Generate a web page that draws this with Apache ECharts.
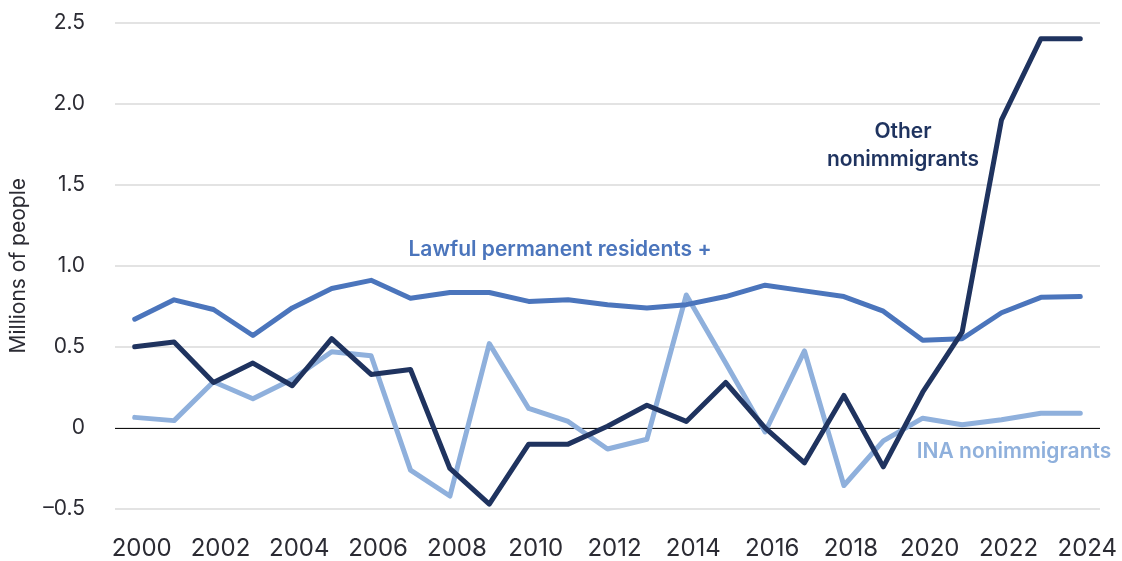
<!DOCTYPE html>
<html>
<head>
<meta charset="utf-8">
<script src="https://cdn.jsdelivr.net/npm/echarts@6/dist/echarts.min.js"></script>
<style>
  html, body { margin: 0; padding: 0; background: #fff; }
  #chart { width: 1122px; height: 561px; }
</style>
</head>
<body>
<div id="chart"></div>
<script>
const years = ['2000', '2001', '2002', '2003', '2004', '2005', '2006', '2007', '2008', '2009', '2010', '2011',
  '2012', '2013', '2014', '2015', '2016', '2017', '2018', '2019', '2020', '2021', '2022', '2023', '2024'];

// millions of people
const lawfulPermanent = [0.67, 0.79, 0.73, 0.57, 0.74, 0.86, 0.91, 0.80, 0.835, 0.835, 0.78, 0.79,
  0.76, 0.74, 0.76, 0.81, 0.88, 0.845, 0.81, 0.72, 0.54, 0.55, 0.71, 0.805, 0.81];
const otherNonimmigrants = [0.50, 0.53, 0.28, 0.40, 0.26, 0.55, 0.33, 0.36, -0.25, -0.47, -0.10, -0.10,
  0.01, 0.14, 0.04, 0.28, 0.0, -0.215, 0.20, -0.24, 0.22, 0.59, 1.90, 2.40, 2.40];
const inaNonimmigrants = [0.065, 0.045, 0.285, 0.18, 0.30, 0.47, 0.445, -0.26, -0.42, 0.52, 0.12, 0.04,
  -0.13, -0.07, 0.82, 0.40, -0.025, 0.475, -0.355, -0.08, 0.06, 0.02, 0.05, 0.09, 0.09];

const FONT = 'Inter, "DejaVu Sans", sans-serif';
const TEXT_C = '#2b2b33';
const C_LAWFUL = '#4b75bc';
const C_OTHER = '#1f335f';
const C_INA = '#8fb0dc';

const chart = echarts.init(document.getElementById('chart'));

const lineSeries = (name, data, color, z) => ({
  name: name,
  type: 'line',
  data: data,
  symbol: 'none',
  z: z,
  lineStyle: { color: color, width: 5, cap: 'round', join: 'round' },
  itemStyle: { color: color },
});

// series labels placed beside the lines
const note = (text, x, y, color) => ({
  type: 'text',
  x: x,
  y: y,
  z: 10,
  style: {
    text: text, fill: color, fontFamily: FONT, fontSize: 21, fontWeight: 600,
    align: 'center', verticalAlign: 'middle', lineHeight: 28,
  },
});

const option = {
  animation: false,
  backgroundColor: '#fff',
  grid: { left: 110, right: 22, top: 22.5, bottom: 50.5, containLabel: false },
  xAxis: {
    type: 'category',
    data: years,
    boundaryGap: true,
    axisLine: { show: false },
    axisTick: { show: false },
    axisLabel: {
      interval: 1,
      margin: 28,
      padding: [0, 0, 0, 14],
      fontFamily: FONT,
      fontSize: 24,
      color: TEXT_C,
    },
    splitLine: { show: false },
  },
  yAxis: {
    type: 'value',
    min: -0.5,
    max: 2.5,
    interval: 0.5,
    name: 'Millions of people',
    nameLocation: 'middle',
    nameGap: 86,
    nameRotate: 90,
    nameTextStyle: { fontFamily: FONT, fontSize: 21, color: TEXT_C },
    axisLine: { show: false },
    axisTick: { show: false },
    axisLabel: {
      margin: 30,
      fontFamily: FONT,
      fontSize: 21,
      color: TEXT_C,
      formatter: v => (v === 0 ? '0' : v.toFixed(1).replace('-', '\u2013')),
    },
    splitLine: { show: true, lineStyle: { color: '#e3e3e3', width: 2 } },
  },
  series: [
    Object.assign(lineSeries('Lawful permanent residents +', lawfulPermanent, C_LAWFUL, 3), {
      markLine: {
        silent: true,
        symbol: 'none',
        label: { show: false },
        lineStyle: { color: '#111', width: 1.2, type: 'solid' },
        data: [{ yAxis: 0 }],
        z: 1,
      },
    }),
    lineSeries('INA nonimmigrants', inaNonimmigrants, C_INA, 2),
    lineSeries('Other nonimmigrants', otherNonimmigrants, C_OTHER, 4),
  ],
  graphic: [
    note('Lawful permanent residents +', 560, 250, C_LAWFUL),
    note('Other\nnonimmigrants', 903, 146, C_OTHER),
    note('INA nonimmigrants', 1014, 452, C_INA),
  ],
};

chart.setOption(option);
</script>
</body>
</html>
